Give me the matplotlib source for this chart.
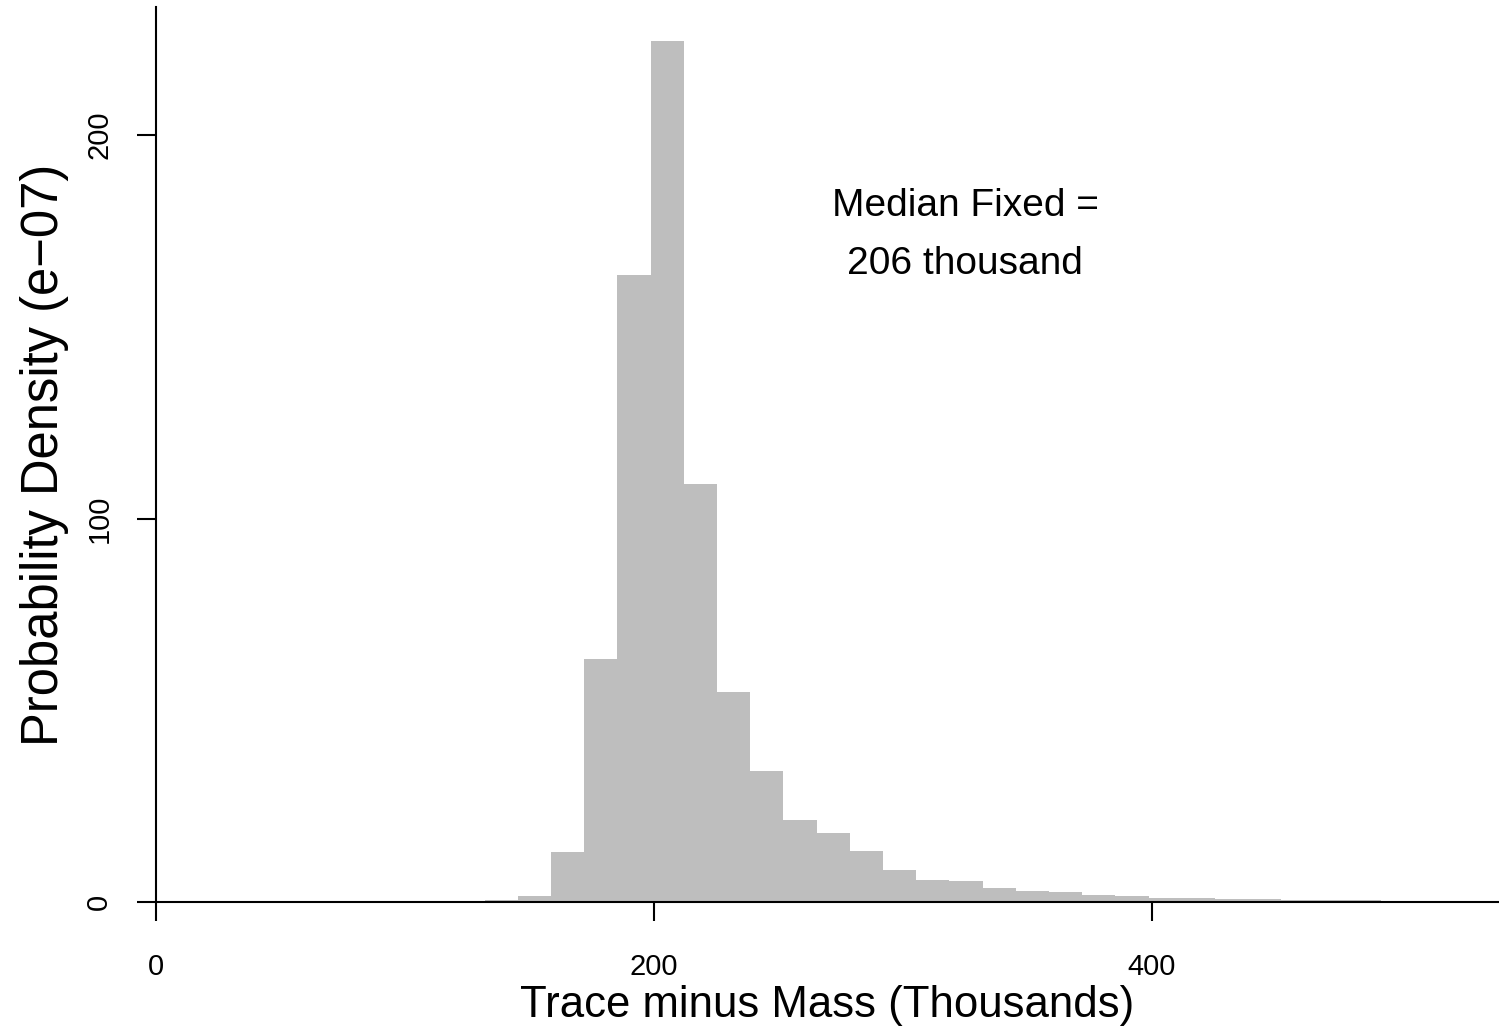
import matplotlib
matplotlib.use("Agg")
import matplotlib.pyplot as plt
import numpy as np

plt.rcParams['font.family'] = ['Liberation Sans', 'DejaVu Sans']

# Histogram data (density, units of 1e-07), x in thousands
bin_start = 132.0
bin_width = 13.33
densities = [0.5, 1.6, 13.0, 63.4, 163.5, 224.6, 109.0, 54.8, 34.2, 21.4,
             18.0, 13.3, 8.4, 5.7, 5.5, 3.6, 2.9, 2.5, 1.8, 1.6,
             1.1, 1.1, 0.8, 0.8, 0.5, 0.5, 0.45]
x_ticks = [0, 200, 400]
y_ticks = [0, 100, 200]
annotation_lines = ["Median Fixed =", "206 thousand"]

edges = bin_start + bin_width * np.arange(len(densities) + 1)

W, H = 1499, 1028
fig = plt.figure(figsize=(W / 100, H / 100), dpi=100)
ax = fig.add_axes([156 / W, (H - 902) / H, (W - 156) / W, (902 - 7) / H])

ax.bar(edges[:-1], densities, width=bin_width, align='edge',
       color='#bebebe', edgecolor='none', linewidth=0)

ax.set_xlim(0, (W - 156) / 2.49)
ax.set_ylim(0, (902 - 7) / 3.835)

for s in ['top', 'right']:
    ax.spines[s].set_visible(False)
for s in ['left', 'bottom']:
    ax.spines[s].set_linewidth(1.5)
    ax.spines[s].set_color('black')

ax.set_xticks(x_ticks)
ax.set_yticks(y_ticks)
ax.set_xticklabels([str(v) for v in x_ticks], fontsize=21)
ax.set_yticklabels([str(v) for v in y_ticks], fontsize=21, rotation=90, va='center')
ax.tick_params(axis='both', direction='out', length=13.7, width=1.5, color='black')
ax.tick_params(axis='x', pad=23)
ax.tick_params(axis='y', pad=17)

ax.set_xlabel("Trace minus Mass (Thousands)", fontsize=31.5)
ax.xaxis.set_label_coords(0.5, (902 - 1005) / 895)
ax.xaxis.label.set_va('center')
ax.set_ylabel("Probability Density (e\u221207)", fontsize=36.5)
ax.yaxis.set_label_coords((45 - 156) / 1343, 0.5)
ax.yaxis.label.set_va('center')

ax.text(324.9, (902 - 206) / 3.835, annotation_lines[0], ha='center', va='center', fontsize=28)
ax.text(324.9, (902 - 264) / 3.835, annotation_lines[1], ha='center', va='center', fontsize=28)

fig.savefig("out.png", dpi=100)
